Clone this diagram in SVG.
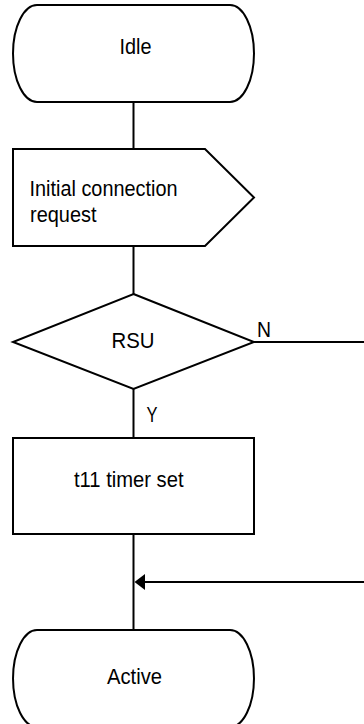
<svg xmlns="http://www.w3.org/2000/svg" width="364" height="724" viewBox="0 0 364 724">
<style>
.s{fill:#fff;stroke:#000;stroke-width:2}
.l{fill:none;stroke:#000;stroke-width:2}
text{font-family:"Liberation Sans",Arial,sans-serif;font-size:22.5px;fill:#000}
</style>
<g id="connectors">
<line class="l" x1="133.5" y1="102" x2="133.5" y2="149"/>
<line class="l" x1="133.5" y1="246" x2="133.5" y2="294"/>
<line class="l" x1="254" y1="342" x2="364" y2="342"/>
<line class="l" x1="133.5" y1="389" x2="133.5" y2="438"/>
<line class="l" x1="133.5" y1="534" x2="133.5" y2="630"/>
<line class="l" x1="364" y1="582" x2="145" y2="582"/>
<path d="M134.5,582 L145,574 L145,590 Z" fill="#000"/>
<text x="257" y="337.3" textLength="14" lengthAdjust="spacingAndGlyphs">N</text>
<text x="146.5" y="421.7" textLength="11" lengthAdjust="spacingAndGlyphs">Y</text>
</g>
<g id="idle">
<path class="s" d="M37,5 H230 A24,48.5 0 0 1 230,102 H37 A24,48.5 0 0 1 37,5 Z"/>
<text x="119.5" y="54" textLength="32" lengthAdjust="spacingAndGlyphs">Idle</text>
</g>
<g id="request">
<path class="s" d="M13,149 H205 L254,197.5 L205,246 H13 Z"/>
<text x="29.5" y="196" textLength="148" lengthAdjust="spacingAndGlyphs">Initial connection</text>
<text x="30" y="221.5" textLength="66.5" lengthAdjust="spacingAndGlyphs">request</text>
</g>
<g id="rsu">
<path class="s" d="M133.5,294 L254,342 L133.5,389 L13,342 Z"/>
<text x="111.5" y="348.3" textLength="43" lengthAdjust="spacingAndGlyphs">RSU</text>
</g>
<g id="timer">
<rect class="s" x="13" y="438" width="241" height="96"/>
<text x="74" y="486.7" textLength="109.5" lengthAdjust="spacingAndGlyphs">t11 timer set</text>
</g>
<g id="active">
<path class="s" d="M37,630 H230 A24,48.5 0 0 1 230,727 H37 A24,48.5 0 0 1 37,630 Z"/>
<text x="107" y="684" textLength="55" lengthAdjust="spacingAndGlyphs">Active</text>
</g>
</svg>
